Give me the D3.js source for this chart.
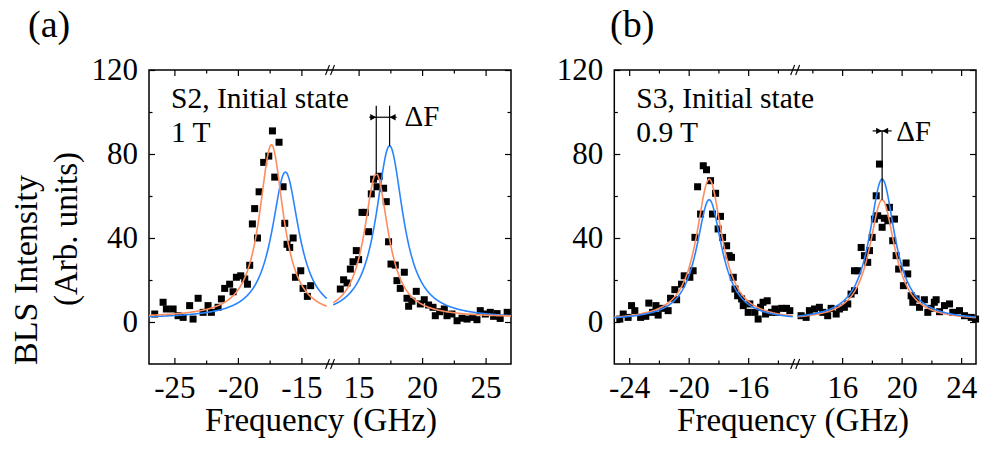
<!DOCTYPE html>
<html>
<head>
<meta charset="utf-8">
<style>
body { margin: 0; background: white; }
svg { display: block; }
text { font-family: "Liberation Serif", "Times New Roman", serif; fill: black; }
.domain { display: none; }
.tick line { stroke: black; stroke-width: 1.2px; }
.tick text { font-size: 31px; }
.fit { fill: none; stroke-width: 1.6px; }
</style>
</head>
<body>
<script src="https://cdn.jsdelivr.net/npm/d3@7/dist/d3.min.js"></script>
<script>
// ---- panel (a) : S2, initial state, 1 T ----
var aFreq = [-26.55,-25.89,-25.63,-25.1,-24.71,-24.31,-23.8,-23.53,-23.13,-22.74,-22.35,-22.09,-21.56,-21.3,-21.04,-20.65,-20.38,-20.12,-19.78,-19.46,-19.25,-19.07,-18.86,-18.68,-18.46,-18.33,-17.97,-17.57,-17.28,-17.1,-16.76,-16.44,-16.31,-16.13,-15.92,-15.65,-15.47,-15.05,-14.87,-14.53,-14.27,
  13.56,13.82,14.09,14.35,14.56,14.82,15.0,15.27,15.53,15.79,16.0,16.18,16.45,16.63,16.97,17.18,17.36,17.55,17.89,18.02,18.28,18.6,18.81,18.94,19.2,19.54,19.86,20.17,20.51,20.86,21.04,21.38,21.75,21.96,22.35,22.75,23.14,23.54,24.0,24.32,24.58,24.98,25.37,25.63,25.9,26.15,26.7];
var aInt = [3.8,9.4,6.2,6.2,3.0,2.2,7.8,1.4,11.3,4.6,7.8,4.6,7.0,11,16,18,14.4,21.3,22,20.5,18,27,46.7,54,40,62,76,79,91,69,85.6,64.4,47,37,35.5,40,21.3,24.4,16,12.2,17.3,
  15.7,20.1,18.6,25.2,28.7,34,29.7,52.2,52.2,43,61,68,64.4,69.4,63.7,57.3,38.2,27.6,27.1,19.7,16,23.7,11.3,7.5,9.9,14.6,8.6,10.6,8.1,7,3,4.9,6.2,3,3.8,0.6,1.8,1.4,2.2,1.1,5.4,3.8,4.6,2.7,4,1.7,4.6];

// ---- panel (b) : S3, initial state, 0.9 T ----
var bFreq = [-24.63,-24.4,-24.07,-23.84,-23.62,-23.23,-22.88,-22.68,-22.43,-22.2,-22.05,-21.75,-21.38,-21.22,-20.93,-20.81,-20.48,-20.3,-19.92,-19.7,-19.58,-19.4,-19.2,-19.02,-18.8,-18.53,-18.4,-18.19,-18.02,-17.86,-17.72,-17.45,-17.28,-17.12,-17.0,-16.89,-16.71,-16.44,-16.33,-16.0,-15.89,-15.55,-15.33,-15.17,-15.0,-14.83,-14.72,-14.43,-14.2,-14.09,-13.75,-13.42,-13.2,
  13.24,13.58,13.8,14.14,14.47,14.7,15.03,15.26,15.6,15.82,16.15,16.38,16.6,16.83,16.83,17.05,17.28,17.5,17.72,17.84,18.02,18.17,18.29,18.51,18.39,18.69,18.84,19.18,19.07,19.52,19.4,19.63,19.8,20.12,20.3,20.41,20.64,20.75,20.97,21.2,21.53,21.76,21.98,22.2,22.32,22.55,22.88,23.22,23.44,23.89,24.23,24.68,24.97];
var bInt = [1.4,3.8,2.2,7.8,5.4,2.2,2.7,9,4.6,7.8,3.3,6.5,5.4,11.3,15.4,10.6,18,22,21.3,24.4,40.3,64.4,51.4,74.4,72.5,67.3,51.4,61.3,44.3,50.3,40.3,36.3,31.6,30.8,21.3,15.7,12.5,11,7.8,4.6,8.6,4.6,1.4,7,9.4,3.8,10.1,4.6,6.2,4.6,6.5,6.5,5.4,
  3,2.2,5.4,6.2,7,4.6,3,6.5,3.8,6.2,7,8.6,13.3,14.9,24.4,24.4,35.5,31.6,28.4,34,40.3,49,60.1,75.2,50.6,45.1,49.4,54.6,48.2,49,38.7,31.6,25.2,17.3,28.1,22.9,12.5,9.4,11,7,10.6,4.6,6.5,9.4,10.6,4.9,7.8,8.6,4.6,5.4,3,2.2,1.4];

// Lorentzian fit peaks (centre, height above base)
var aOrangeCenter = [-17.36, 16.39], aOrangeAmp = [82.3, 68.5], aOrangeWidth = 1.15, aOrangeBase = 2;
var aBlueCenter = [-16.26, 17.44], aBlueAmp = [69.8, 82.3], aBlueWidth = 1.3, aBlueBase = 1.5;
var bOrangeCenter = [-18.62, 18.69], bOrangeAmp = [67.5, 57.7], bOrangeWidth = 1.05, bOrangeBase = 0.5;
var bBlueCenter = [-18.62, 18.69], bBlueAmp = [57.7, 67.5], bBlueWidth = 1.05, bBlueBase = 0.5;

// axes
var aTicks = [-25, -20, -15, 15, 20, 25];
var aMinor = [-22.5, -17.5, 17.5, 22.5];
var bTicks = [-24, -20, -16, 16, 20, 24];
var bMinor = [-22, -18, -14, 14, 18, 22];
var yTicks = [0, 40, 80, 120];
var yMinor = [20, 60, 100];

var orange = "#ff8c5e", blue = "#2b84ff";

var svg = d3.select("body").append("svg")
    .attr("width", 983)
    .attr("height", 455);

var y = d3.scaleLinear().domain([-20, 120]).range([364, 70]);

function lorentz(f, centers, amps, w, base) {
  var v = base;
  for (var i = 0; i < centers.length; i++) {
    var d = (f - centers[i]) / w;
    v += amps[i] / (1 + d * d);
  }
  return v;
}

function drawPanel(p) {
  var g = svg.append("g");
  var xl = d3.scaleLinear().domain(p.left).range(p.leftRange);
  var xr = d3.scaleLinear().domain(p.right).range(p.rightRange);
  var x0 = p.leftRange[0], x1 = p.rightRange[1];
  var neg = function(t) { return t < 0; }, pos = function(t) { return t > 0; };
  var fmt = function(d) { return String(d); };

  // bottom / top ticks
  [[xl, neg], [xr, pos]].forEach(function(s) {
    var sc = s[0], f = s[1];
    g.append("g").attr("transform", "translate(0,364)")
      .call(d3.axisBottom(sc).tickValues(p.ticks.filter(f)).tickSize(-6).tickPadding(12).tickFormat(fmt));
    g.append("g").attr("transform", "translate(0,364)")
      .call(d3.axisBottom(sc).tickValues(p.minor.filter(f)).tickSize(-3.5).tickFormat(""));
    g.append("g").attr("transform", "translate(0,70)")
      .call(d3.axisTop(sc).tickValues(p.ticks.filter(f)).tickSize(-6).tickFormat(""));
    g.append("g").attr("transform", "translate(0,70)")
      .call(d3.axisTop(sc).tickValues(p.minor.filter(f)).tickSize(-3.5).tickFormat(""));
  });

  // left / right ticks
  g.append("g").attr("transform", "translate(" + x0 + ",0)")
    .call(d3.axisLeft(y).tickValues(yTicks).tickSize(-6).tickPadding(11));
  g.append("g").attr("transform", "translate(" + x0 + ",0)")
    .call(d3.axisLeft(y).tickValues(yMinor).tickSize(-3.5).tickFormat(""));
  g.append("g").attr("transform", "translate(" + x1 + ",0)")
    .call(d3.axisRight(y).tickValues(yTicks).tickSize(-6).tickFormat(""));
  g.append("g").attr("transform", "translate(" + x1 + ",0)")
    .call(d3.axisRight(y).tickValues(yMinor).tickSize(-3.5).tickFormat(""));

  g.append("rect")
    .attr("x", x0).attr("y", 70)
    .attr("width", x1 - x0).attr("height", 294)
    .attr("fill", "none").attr("stroke", "black").attr("stroke-width", 1.5);

  // axis break marks
  var cx = (p.leftRange[1] + p.rightRange[0]) / 2;
  [70, 364].forEach(function(yy) {
    [-2.5, 2.5].forEach(function(o) {
      g.append("line")
        .attr("x1", cx + o - 2).attr("y1", yy + 5)
        .attr("x2", cx + o + 2).attr("y2", yy - 5)
        .attr("stroke", "black").attr("stroke-width", 1.1);
    });
  });

  // data points
  g.selectAll("rect.pt")
    .data(p.freq.map(function(f, i) { return [f, p.inten[i]]; }))
    .enter().append("rect")
    .attr("class", "pt")
    .attr("x", function(d) { return (d[0] < 0 ? xl : xr)(d[0]) - 3.5; })
    .attr("y", function(d) { return y(d[1]) - 3.5; })
    .attr("width", 7).attr("height", 7)
    .attr("fill", "black");

  // fit curves, one path per segment
  p.fits.forEach(function(ft) {
    [[xl, p.left], [xr, p.right]].forEach(function(s) {
      var sc = s[0], dom = s[1], pts = [];
      for (var f = dom[0]; f <= dom[1] + 1e-9; f += 0.05) {
        pts.push([f, lorentz(f, ft.c, ft.a, ft.w, ft.b)]);
      }
      g.append("path")
        .attr("class", "fit")
        .attr("stroke", ft.color)
        .attr("d", d3.line().x(function(d) { return sc(d[0]); }).y(function(d) { return y(d[1]); })(pts));
    });
  });

  // labels
  g.append("text").attr("x", p.labelX).attr("y", 37)
    .style("font-size", "38px").text(p.label);
  g.append("text").attr("x", x0 + 22).attr("y", 108)
    .style("font-size", "29.5px").text(p.title);
  g.append("text").attr("x", x0 + 22).attr("y", 142)
    .style("font-size", "29.5px").text(p.field);
  g.append("text").attr("x", p.titleX).attr("y", 431)
    .attr("text-anchor", "middle")
    .style("font-size", "33px").text("Frequency (GHz)");

  // delta F marker
  var mk = p.marker;
  var ya = y(mk.arrowY), yt = y(mk.topY);
  mk.lines.forEach(function(l) {
    g.append("line")
      .attr("x1", xr(l[0])).attr("x2", xr(l[0]))
      .attr("y1", y(l[1])).attr("y2", yt)
      .attr("stroke", "black").attr("stroke-width", 1.2);
  });
  var xa = xr(mk.lines[0][0]), xb = xr(mk.lines[mk.lines.length - 1][0]);
  g.append("line")
    .attr("x1", xa - mk.stub).attr("x2", xb + mk.stub)
    .attr("y1", ya).attr("y2", ya)
    .attr("stroke", "black").attr("stroke-width", 1.2);
  g.append("path")
    .attr("d", "M" + xa + "," + ya + "l-6,-3.2v6.4z M" + xb + "," + ya + "l6,-3.2v6.4z")
    .attr("fill", "black");
  g.append("text").attr("x", xb + mk.textDx).attr("y", mk.textY)
    .style("font-size", "29px").text("\u0394F");
}

drawPanel({
  label: "(a)", labelX: 28, titleX: 321,
  title: "S2, Initial state", field: "1 T",
  left: [-27, -13], leftRange: [149, 326.8],
  right: [13, 27], rightRange: [333.2, 511],
  ticks: aTicks, minor: aMinor,
  freq: aFreq, inten: aInt,
  fits: [
    {c: aBlueCenter, a: aBlueAmp, w: aBlueWidth, b: aBlueBase, color: blue},
    {c: aOrangeCenter, a: aOrangeAmp, w: aOrangeWidth, b: aOrangeBase, color: orange}
  ],
  marker: {lines: [[aOrangeCenter[1], aOrangeBase + aOrangeAmp[1]], [aBlueCenter[1], aBlueBase + aBlueAmp[1]]],
           arrowY: 97.5, topY: 103, stub: 7, textDx: 15, textY: 126}
});

drawPanel({
  label: "(b)", labelX: 610, titleX: 793,
  title: "S3, Initial state", field: "0.9 T",
  left: [-25, -13], leftRange: [614.3, 792.8],
  right: [13, 25], rightRange: [797.5, 976],
  ticks: bTicks, minor: bMinor,
  freq: bFreq, inten: bInt,
  fits: [
    {c: bOrangeCenter, a: bOrangeAmp, w: bOrangeWidth, b: bOrangeBase, color: orange},
    {c: bBlueCenter, a: bBlueAmp, w: bBlueWidth, b: bBlueBase, color: blue}
  ],
  marker: {lines: [[bOrangeCenter[1], bOrangeBase + bOrangeAmp[1]]],
           arrowY: 91, topY: 91, stub: 9.5, textDx: 14, textY: 141}
});

// shared y title
svg.append("text")
  .attr("transform", "translate(37,270) rotate(-90)")
  .attr("text-anchor", "middle")
  .style("font-size", "34px").text("BLS Intensity");
svg.append("text")
  .attr("transform", "translate(77,229) rotate(-90)")
  .attr("text-anchor", "middle")
  .style("font-size", "33px").text("(Arb. units)");
</script>
</body>
</html>
